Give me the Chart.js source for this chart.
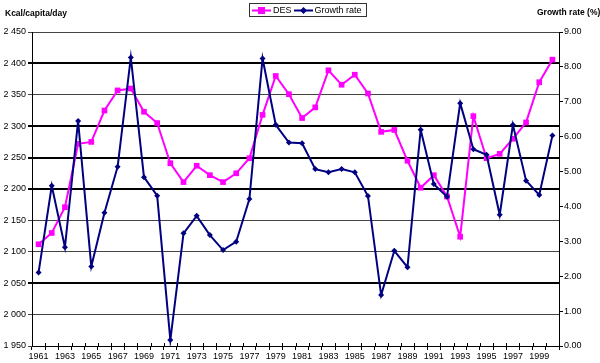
<!DOCTYPE html>
<html>
<head>
<meta charset="utf-8">
<script src="https://cdn.jsdelivr.net/npm/chart.js@4"></script>
<style>
  html, body { margin: 0; padding: 0; background: #fff; }
  #wrap { position: relative; width: 600px; height: 363px; font-family: "Liberation Sans", Arial, sans-serif; }
  #c { position: absolute; left: 0; top: 0; }
  .ttl { position: absolute; font-weight: bold; font-size: 8.5px; color: #000; white-space: nowrap; }
  #legend { position: absolute; left: 249px; top: 3px; width: 118px; height: 14px; border: 1px solid #333; box-sizing: border-box;
            font-size: 9px; display: flex; align-items: center; white-space: nowrap; overflow: hidden; }
  #legend svg { flex-shrink: 0; }
  #legend span { flex-shrink: 0; margin-right: 2px; }
</style>
</head>
<body>
<div id="wrap">
  <canvas id="c" width="600" height="363"></canvas>
  <div class="ttl" style="left:5px; top:8px;">Kcal/capita/day</div>
  <div class="ttl" style="left:537px; top:7px;">Growth rate (%)</div>
  <div id="legend">
    <svg width="19" height="11" style="margin-left:2px"><line x1="0" y1="5.5" x2="19" y2="5.5" stroke="#FF00FF" stroke-width="2"/><rect x="6" y="2" width="7" height="7" fill="#FF00FF"/></svg>
    <span style="margin-left:2px">DES</span>
    <svg width="19" height="11"><line x1="0" y1="5.5" x2="19" y2="5.5" stroke="#000080" stroke-width="2"/><polygon points="9.5,2 13,5.5 9.5,9 6,5.5" fill="#000080"/></svg>
    <span style="margin-left:2px">Growth rate</span>
  </div>
</div>
<script>
const years = [1961,1962,1963,1964,1965,1966,1967,1968,1969,1970,
               1971,1972,1973,1974,1975,1976,1977,1978,1979,1980,
               1981,1982,1983,1984,1985,1986,1987,1988,1989,1990,
               1991,1992,1993,1994,1995,1996,1997,1998,1999,2000];
const desValues = [2112,2130,2171,2272,2275,2325,2357,2360,2323,2305,
                   2241,2211,2237,2222,2211,2225,2249,2318,2380,2351,
                   2313,2330,2389,2366,2382,2352,2291,2294,2245,2202,
                   2222,2188,2124,2316,2249,2256,2280,2306,2370,2406];
const growthValues = [2.11,4.59,2.83,6.45,2.28,3.82,5.14,8.27,4.84,4.31,
                      0.17,3.23,3.73,3.18,2.75,2.99,4.21,8.24,6.34,5.83,
                      5.81,5.07,4.98,5.07,4.98,4.30,1.46,2.73,2.26,6.20,
                      4.64,4.28,6.96,5.64,5.48,3.76,6.34,4.74,4.33,6.03];
const desTicks = {min: 1950, max: 2450, step: 50};
const rateTicks = {min: 0, max: 9, step: 1};

const thickLines = [2400, 2300, 2250, 2200, 2050];
const tickFont = {family: "'Liberation Sans', Arial, sans-serif", size: 9};

// small tick marks above the category axis, so they cross it as in the reference
const crossTicks = {
  id: 'crossTicks',
  afterDatasetsDraw(chart) {
    const x = chart.scales.x, ctx = chart.ctx, y0 = chart.chartArea.bottom;
    ctx.save();
    ctx.strokeStyle = '#000'; ctx.lineWidth = 1;
    for (let i = 0; i <= years.length; i++) {
      const px = Math.round(x.left + (x.right - x.left) * i / years.length) + 0.5;
      ctx.beginPath(); ctx.moveTo(px, y0 - 3); ctx.lineTo(px, y0); ctx.stroke();
    }
    ctx.restore();
  }
};

new Chart(document.getElementById('c'), {
  type: 'line',
  data: {
    labels: years.map(String),
    datasets: [
      {
        label: 'DES', data: desValues, yAxisID: 'y',
        borderColor: '#FF00FF', backgroundColor: '#FF00FF', borderWidth: 2,
        pointStyle: 'rect', pointRadius: 4, pointBorderWidth: 0, tension: 0, order: 1
      },
      {
        label: 'Growth rate', data: growthValues, yAxisID: 'y1',
        borderColor: '#000080', backgroundColor: '#000080', borderWidth: 2,
        pointStyle: 'rectRot', pointRadius: 3, pointBorderWidth: 0, tension: 0, order: 0
      }
    ]
  },
  options: {
    responsive: false, animation: false, devicePixelRatio: 1,
    layout: { padding: { top: 32, left: 0, right: 0, bottom: 0 } },
    plugins: { legend: { display: false }, tooltip: { enabled: false } },
    scales: {
      x: {
        type: 'category', offset: true,
        grid: { offset: true, drawOnChartArea: false, color: '#000', tickLength: 4, lineWidth: 1 },
        border: { color: '#000', width: 1 },
        ticks: { autoSkip: false, maxRotation: 0, minRotation: 0, padding: 1, color: '#000', font: tickFont,
                 callback: function(v, i) { return i % 2 === 0 ? this.getLabelForValue(v) : ''; } },
        afterFit: s => { s.height = 17; }
      },
      y: {
        position: 'left', min: desTicks.min, max: desTicks.max,
        grid: {
          color: c => thickLines.includes(c.tick.value) ? '#000' : '#444',
          lineWidth: c => thickLines.includes(c.tick.value) ? 2 : 1,
          tickLength: 4
        },
        border: { color: '#000', width: 1 },
        ticks: { stepSize: desTicks.step, padding: 2, color: '#000', font: tickFont,
                 callback: v => { const s = String(v); return s.slice(0, s.length - 3) + ' ' + s.slice(-3); } },
        afterFit: s => { s.width = 32; }
      },
      y1: {
        position: 'right', min: rateTicks.min, max: rateTicks.max,
        grid: { drawOnChartArea: false, color: '#000', tickLength: 4 },
        border: { color: '#000', width: 1 },
        ticks: { stepSize: rateTicks.step, padding: 1, color: '#000', font: tickFont,
                 callback: v => Number(v).toFixed(2) },
        afterFit: s => { s.width = 41; }
      }
    }
  },
  plugins: [crossTicks]
});
</script>
</body>
</html>
